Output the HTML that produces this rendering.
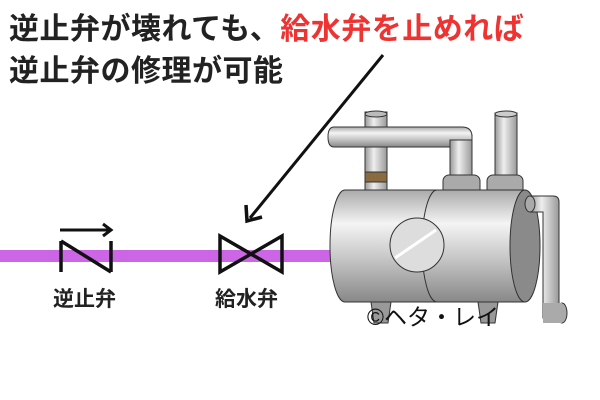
<!DOCTYPE html>
<html><head><meta charset="utf-8"><style>
body{margin:0;background:#fff;width:600px;height:400px;overflow:hidden;font-family:"Liberation Sans","Noto Sans CJK JP",sans-serif}
.t{position:absolute;font-weight:bold;font-size:30px;line-height:34px;color:#222;white-space:nowrap;letter-spacing:0.5px}
</style></head><body>
<div class="t" style="left:9px;top:13px">逆止弁が壊れても、<span style="color:#ee3333">給水弁を止めれば</span></div>
<div class="t" style="left:9px;top:55px">逆止弁の修理が可能</div>
<svg width="600" height="400" style="position:absolute;left:0;top:0">
<defs>
<linearGradient id="g" x1="0" y1="0" x2="0" y2="1"><stop offset="0" stop-color="#aaa"/><stop offset=".3" stop-color="#f4f4f4"/><stop offset=".6" stop-color="#c8c8c8"/><stop offset="1" stop-color="#888"/></linearGradient>
<linearGradient id="h" x1="0" y1="0" x2="1" y2="0"><stop offset="0" stop-color="#999"/><stop offset=".4" stop-color="#eee"/><stop offset="1" stop-color="#999"/></linearGradient>
</defs>
<rect x="0" y="250" width="332" height="12" fill="#cc66e6"/>
<g stroke="#111" stroke-width="3.5" fill="none" stroke-linejoin="miter">
<path d="M61 241V272M61 241L111 272M111 241V272"/>
<path d="M60 230H110M103 224L111 230L103 236" stroke-width="3"/>
<path d="M220 236L282 272V236L220 272Z"/>
<path d="M383 55L250 218" stroke-width="3"/>
<path d="M246 205L247 221L262 217" stroke-width="3.5"/>
</g>
<g stroke="#333" stroke-width="1">
<path d="M370 295H392L388 323H374Z" fill="#999"/>
<path d="M477 295H499L495 323H481Z" fill="#999"/>
<rect x="365" y="112" width="22" height="85" fill="url(#h)"/>
<rect x="365" y="172" width="22" height="10" fill="#8a6a40"/>
<ellipse cx="376" cy="114" rx="11" ry="3" fill="#bbb"/>
<rect x="450" y="135" width="22" height="45" fill="url(#h)"/>
<path d="M334 127H462Q472 127 472 137V140H450V147H334Q328 147 328 137Q328 127 334 127Z" fill="url(#g)"/>
<rect x="443" y="175" width="37" height="20" rx="6" fill="#aaa"/>
<rect x="495" y="113" width="22" height="65" fill="url(#h)"/>
<ellipse cx="506" cy="114" rx="11" ry="3" fill="#ccc"/>
<rect x="487" y="175" width="36" height="20" rx="6" fill="#aaa"/>
<path d="M345 190H525V302H345A15 56 0 0 1 345 190Z" fill="url(#g)"/>
<path d="M437 190A15 56 0 0 0 437 302" fill="none"/>
<ellipse cx="525" cy="246" rx="15" ry="56" fill="#8a8a8a"/>
<circle cx="417" cy="245" r="27" fill="#ddd"/>
<path d="M395 258L436 230" stroke="#fff" stroke-width="3"/>
<path d="M530 196H553Q559 196 559 202V318H543V212H530Z" fill="url(#h)"/>
<ellipse cx="530" cy="204" rx="5" ry="8" fill="#aaa"/>
<ellipse cx="562" cy="313" rx="5" ry="10" fill="#aaa"/>
<rect x="543" y="303" width="19" height="20" fill="#aaa" stroke="none"/>
</g>
<text x="367" y="325" font-size="23" fill="#111" font-family="Liberation Sans,Noto Sans CJK JP,sans-serif">©ヘタ・レイ</text>
</svg>
<div class="t" style="left:53px;top:287px;font-size:21px;line-height:26px;letter-spacing:0">逆止弁</div>
<div class="t" style="left:215px;top:287px;font-size:21px;line-height:26px;letter-spacing:0">給水弁</div>
</body></html>
